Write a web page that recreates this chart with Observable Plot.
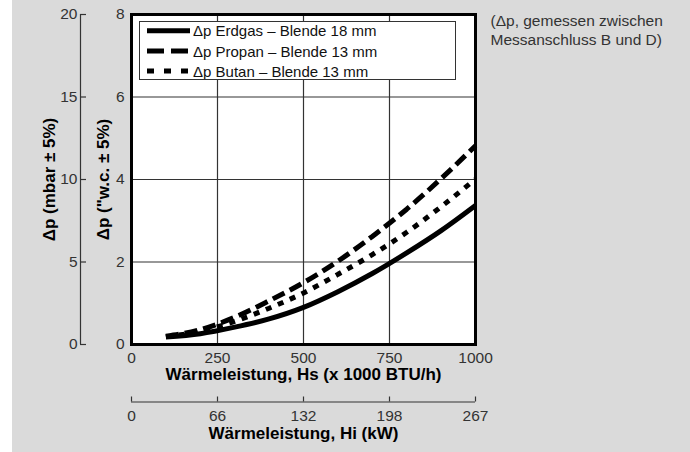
<!DOCTYPE html>
<html><head><meta charset="utf-8">
<script src="https://cdn.jsdelivr.net/npm/d3@7"></script>
<script src="https://cdn.jsdelivr.net/npm/@observablehq/plot@0.6"></script>
<style>
body{margin:0;background:#fff;}
#wrap{position:relative;width:690px;height:452px;font-family:"Liberation Sans",Arial,Helvetica,sans-serif;}
#bg{position:absolute;left:12px;top:0;width:678px;height:452px;background:#dadada;}
#chart{position:absolute;left:0;top:0;}
#legend{position:absolute;left:139px;top:21px;width:315px;height:57px;background:#fff;border:1px solid #333;}
#legend svg{display:block;}
</style></head><body>
<div id="wrap"><div id="bg"></div><div id="chart"></div><div id="legend"></div></div>
<script>
// Data
const hs = [100, 200, 300, 400, 500, 600, 700, 800, 900, 1000];
const erdgas = [0.18, 0.26, 0.42, 0.62, 0.90, 1.28, 1.72, 2.22, 2.76, 3.37];
const propan = [0.20, 0.36, 0.66, 1.06, 1.50, 2.02, 2.62, 3.28, 4.02, 4.82];
const butan  = [0.19, 0.32, 0.56, 0.88, 1.25, 1.70, 2.18, 2.72, 3.34, 4.01];
const seriesNames = ["Δp Erdgas – Blende 18 mm", "Δp Propan – Blende 13 mm", "Δp Butan – Blende 13 mm"];
const wcTicks = [0, 2, 4, 6, 8];
const mbarTicks = [0, 5, 10, 15, 20];
const hsTicks = [0, 250, 500, 750, 1000];
const hiTickLabels = ["0", "66", "132", "198", "267"];
const gridXTicks = [250, 500, 750];
const gridYTicks = [2, 4, 6];
const titleHs = "Wärmeleistung, Hs (x 1000 BTU/h)";
const titleHi = "Wärmeleistung, Hi (kW)";
const titleMbar = "Δp (mbar ± 5%)";
const titleWc = "Δp (\"w.c. ± 5%)";
const note = "(Δp, gemessen zwischen\nMessanschluss B und D)";

const dashes = [null, "13,6", "6,7"];
const legendDashes = [null, "17,7", "7,10"];
const seriesValues = [erdgas, propan, butan];
const rows = [];
seriesValues.forEach((vals, s) => vals.forEach((v, i) => rows.push({series: s, hs: hs[i], dp: v})));

const font = "'Liberation Sans', Arial, Helvetica, sans-serif";
const tickFs = 15.5, titleFs = 17;

const chart = Plot.plot({
  width: 690, height: 452,
  marginLeft: 131, marginRight: 215, marginTop: 14, marginBottom: 108,
  x: {domain: [0, 1000]},
  y: {domain: [0, 8]},
  style: {fontFamily: font, fontSize: tickFs + "px", background: "transparent", color: "#333", overflow: "visible"},
  marks: [
    Plot.frame({fill: "white", stroke: null}),
    Plot.gridX(gridXTicks, {stroke: "#333", strokeOpacity: 1, strokeWidth: 1.2}),
    Plot.gridY(gridYTicks, {stroke: "#333", strokeOpacity: 1, strokeWidth: 1.2}),
    ...seriesValues.map((_, s) => Plot.line(rows.filter(r => r.series === s), {
      x: "hs", y: "dp", stroke: "black", strokeWidth: 5, curve: "monotone-x",
      strokeDasharray: dashes[s], strokeLinecap: "butt", strokeLinejoin: "miter"
    })),
    Plot.frame({stroke: "black", strokeWidth: 3}),
    // inner y axis ("w.c.)
    Plot.axisY(wcTicks, {anchor: "left", tickSize: 0, tickPadding: 7, label: null, fill: "#333", fontSize: tickFs}),
    // outer y axis (mbar)
    Plot.ruleX([0], {y1: 0, y2: 8, dx: -51, stroke: "#333", strokeWidth: 1.2}),
    Plot.axisY(wcTicks, {anchor: "left", tickSize: 6, tickPadding: 3, dx: -45, label: null, fontSize: tickFs,
      tickFormat: d => String(mbarTicks[wcTicks.indexOf(d)]), fill: "#333", stroke: "#333", strokeWidth: 1.2}),
    // Hs axis
    Plot.axisX(hsTicks, {anchor: "bottom", tickSize: 0, tickPadding: 7.5, label: null, fill: "#333", fontSize: tickFs,
      tickFormat: d => String(d)}),
    Plot.text([titleHs], {text: d => d, frameAnchor: "bottom", textAnchor: "middle", dy: 35.5, fontWeight: "bold", fontSize: titleFs, fill: "black"}),
    // Hi axis
    Plot.ruleY([0], {dy: 57.5, stroke: "#333", strokeWidth: 1.2}),
    Plot.axisX(hsTicks, {anchor: "bottom", tickSize: 5, tickPadding: 8, dy: 52.5, label: null, fontSize: tickFs,
      tickFormat: d => hiTickLabels[hsTicks.indexOf(d)], fill: "#333", stroke: "#333", strokeWidth: 1.2}),
    Plot.text([titleHi], {text: d => d, frameAnchor: "bottom", textAnchor: "middle", dy: 94, fontWeight: "bold", fontSize: titleFs, fill: "black"}),
    // y titles
    Plot.text([titleMbar], {text: d => d, frameAnchor: "left", textAnchor: "middle", rotate: -90, dx: -82, fontWeight: "bold", fontSize: titleFs, fill: "black"}),
    Plot.text([titleWc], {text: d => d, frameAnchor: "left", textAnchor: "middle", rotate: -90, dx: -28, fontWeight: "bold", fontSize: titleFs, fill: "black"}),
    // note
    Plot.text([note], {text: d => d, frameAnchor: "top-right", dx: 15, dy: -2.3, textAnchor: "start",
      lineAnchor: "top", lineHeight: 1.23, fontSize: 15.5, fill: "#333"})
  ]
});
document.getElementById("chart").appendChild(chart);

// Legend
const lg = d3.select("#legend").append("svg").attr("width", 315).attr("height", 57)
  .style("font-family", font).style("font-size", "15px");
const rowY = [8.7, 29, 49];
seriesNames.forEach((name, i) => {
  lg.append("line").attr("x1", 7).attr("x2", 50).attr("y1", rowY[i]).attr("y2", rowY[i])
    .attr("stroke", "black").attr("stroke-width", 5)
    .attr("stroke-dasharray", legendDashes[i]);
  lg.append("text").attr("x", 53).attr("y", rowY[i] + 5.5).attr("fill", "#111").text(name);
});
</script>
</body></html>
